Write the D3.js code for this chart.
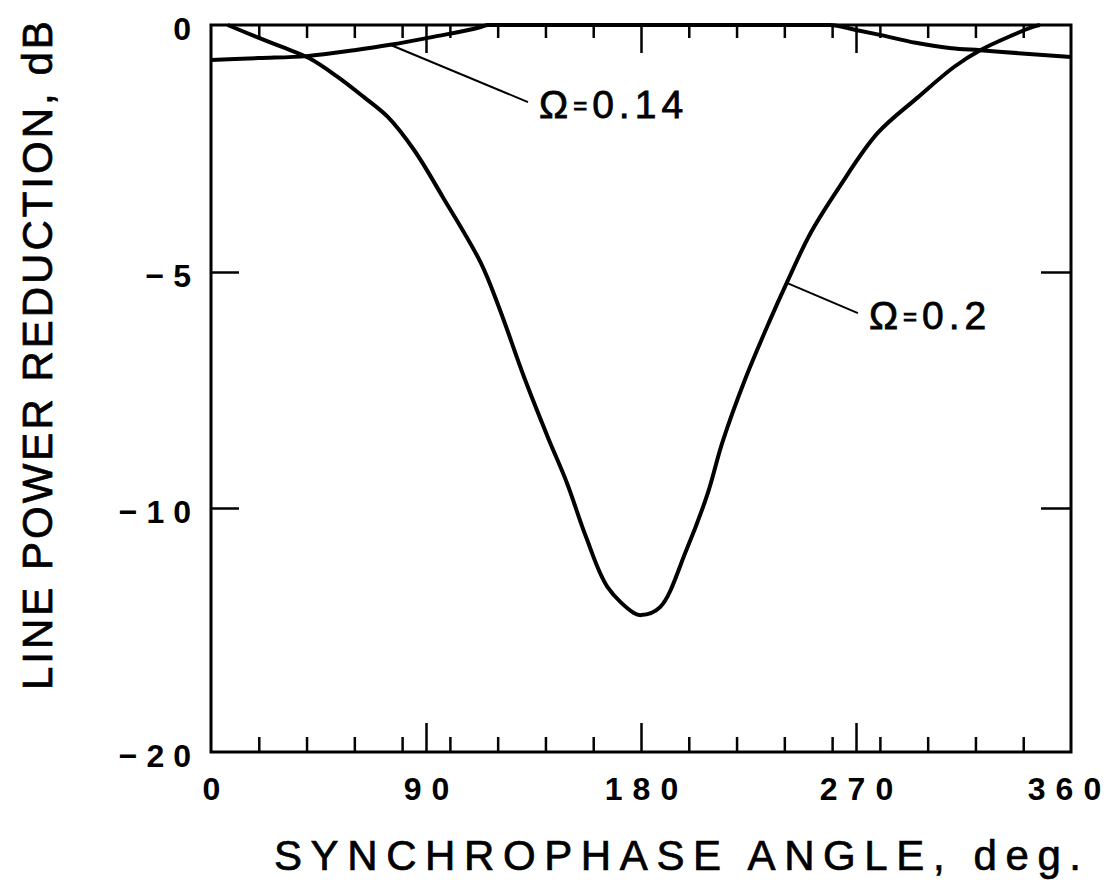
<!DOCTYPE html>
<html>
<head>
<meta charset="utf-8">
<script src="https://d3js.org/d3.v7.min.js"></script>
<style>
  body { margin: 0; background: #fff; }
  text { font-family: "Liberation Sans", Arial, sans-serif; fill: #000; }
</style>
</head>
<body>
<div id="vis"></div>
<script>

// tick values
var majorX = [90, 180, 270]
var minorX = [20, 40, 60, 80, 100, 120, 140, 160, 200, 220, 240, 260, 280, 300, 320, 340]
var labelX = [0, 90, 180, 270, 360]
var labelY = [0, -5, -10, -20]
var tickY = [-5, -10]

// Omega = 0.2
var angle02 = [7, 19, 30, 41, 53, 64, 74, 85, 97, 113, 121, 131, 141, 149, 157, 166, 177, 180, 188, 199, 208, 214, 224, 234, 241, 251, 263, 279, 296, 311, 322, 344, 347]
var loss02 = [0, -0.24, -0.45, -0.67, -1.05, -1.46, -1.86, -2.53, -3.48, -4.82, -5.81, -7.22, -8.50, -9.47, -11.19, -13.24, -14.30, -14.39, -14.06, -11.72, -9.68, -8.62, -7.22, -6.02, -5.23, -4.21, -3.28, -2.19, -1.46, -0.85, -0.51, -0.04, 0]

// Omega = 0.14
var angle014 = [0, 20, 40, 60, 75, 93, 113, 116, 180, 259, 270, 280, 295, 310, 322, 338, 360]
var loss014 = [-0.71, -0.67, -0.63, -0.51, -0.40, -0.24, -0.04, 0, 0, 0, -0.10, -0.20, -0.36, -0.47, -0.51, -0.57, -0.65]

var margin = {top: 25, right: 48, bottom: 128, left: 211}
var width = 1119 - margin.left - margin.right
var height = 880 - margin.top - margin.bottom

var svg = d3.select("#vis").append("svg")
  .attr("width", 1119)
  .attr("height", 880)

var g = svg.append("g")
  .attr("transform", "translate(" + margin.left + "," + margin.top + ")")

var x = d3.scaleLinear().domain([0, 360]).range([0, width])
// the printed scale is not linear: the -10..-20 decade is squeezed
var y = d3.scaleLinear().domain([0, -5, -10, -20]).range([0, 247, 483, height])

function ticks(axis, tr, sw) {
  var a = g.append("g").attr("transform", tr).call(axis)
  a.select(".domain").remove()
  a.selectAll("line").attr("stroke", "#000").attr("stroke-width", sw)
  return a
}

var noLabel = function() { return "" }

ticks(d3.axisBottom(x).tickValues(minorX).tickSize(-15).tickFormat(noLabel), "translate(0," + height + ")", 2.5)
ticks(d3.axisBottom(x).tickValues(majorX).tickSize(-29).tickFormat(noLabel), "translate(0," + height + ")", 2.5)
ticks(d3.axisTop(x).tickValues(minorX).tickSize(-13).tickFormat(noLabel), "translate(0,0)", 2.5)
ticks(d3.axisTop(x).tickValues(majorX).tickSize(-28).tickFormat(noLabel), "translate(0,0)", 2.5)
ticks(d3.axisLeft(y).tickValues(tickY).tickSize(-28).tickFormat(noLabel), "translate(0,0)", 2.5)
ticks(d3.axisRight(y).tickValues(tickY).tickSize(-30).tickFormat(noLabel), "translate(" + width + ",0)", 2.5)

// tick labels
var xl = ticks(d3.axisBottom(x).tickValues(labelX).tickSize(0), "translate(0," + height + ")", 0)
xl.selectAll("text")
  .attr("y", 48).attr("dy", 0)
  .attr("dx", function(d) { return d === 360 ? -2 : 5 })
  .style("font-size", "32px")
  .style("font-weight", "bold")
  .style("letter-spacing", "10px")

var yl = ticks(d3.axisLeft(y).tickValues(labelY).tickSize(0)
    .tickFormat(function(d) { return d < 0 ? "\u2212" + (-d) : d }), "translate(0,0)", 0)
yl.selectAll("text")
  .attr("x", -11).attr("dy", "0.46em")
  .style("font-size", "32px")
  .style("font-weight", "bold")
  .style("letter-spacing", "9px")

// frame
g.append("rect")
  .attr("width", width).attr("height", height)
  .attr("fill", "none").attr("stroke", "#000").attr("stroke-width", 3)

// curves
var line = d3.line()
  .x(function(d) { return x(d[0]) })
  .y(function(d) { return y(d[1]) })

g.append("path")
  .datum(d3.zip(angle014, loss014))
  .attr("d", line.curve(d3.curveMonotoneX))
  .attr("fill", "none").attr("stroke", "#000").attr("stroke-width", 4)

g.append("path")
  .datum(d3.zip(angle02, loss02))
  .attr("d", line.curve(d3.curveCatmullRom.alpha(0.5)))
  .attr("fill", "none").attr("stroke", "#000").attr("stroke-width", 4)

// labels with leader lines
var notes = [
  {from: [75, -0.40], to: [132.7, -1.56], text: "0.14"},
  {from: [241, -5.23], to: [270.8, -5.87], text: "0.2"}
]

notes.forEach(function(n) {
  g.append("line")
    .attr("x1", x(n.from[0])).attr("y1", y(n.from[1]))
    .attr("x2", x(n.to[0])).attr("y2", y(n.to[1]))
    .attr("stroke", "#000").attr("stroke-width", 2)
  var t = g.append("text")
    .attr("x", x(n.to[0]) + 11).attr("y", y(n.to[1]) + 16)
    .style("font-size", "39px")
    .style("letter-spacing", "5px")
    .style("stroke", "#000").style("stroke-width", 0.8)
  t.append("tspan").text("\u03A9")
  t.append("tspan").style("font-size", "24px").attr("dy", -4).text("=")
  t.append("tspan").attr("dy", 4).text(n.text)
})

// axis titles
svg.append("text")
  .attr("x", 274).attr("y", 870)
  .style("font-size", "42px")
  .style("letter-spacing", "8.6px")
  .style("stroke", "#000").style("stroke-width", 0.7)
  .text("SYNCHROPHASE ANGLE, deg.")

svg.append("text")
  .attr("transform", "translate(52,690) rotate(-90)")
  .style("font-size", "42px")
  .style("letter-spacing", "3px")
  .style("stroke", "#000").style("stroke-width", 0.7)
  .text("LINE POWER REDUCTION, dB")

</script>
</body>
</html>
